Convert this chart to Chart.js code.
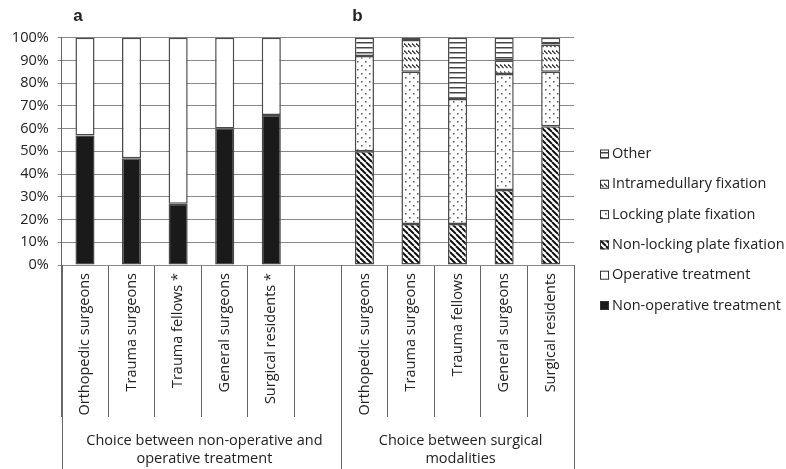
<!DOCTYPE html>
<html>
<head>
<meta charset="utf-8">
<script src="https://cdn.jsdelivr.net/npm/chart.js@4.4.1/dist/chart.umd.min.js"></script>
<style>
  html, body { margin: 0; padding: 0; background: #fff; }
</style>
</head>
<body>
<canvas id="chart" width="786" height="469"></canvas>
<script>
// Categorias (slot vazio entre os dois painéis)
const categories = ['Orthopedic surgeons', 'Trauma surgeons', 'Trauma fellows *', 'General surgeons', 'Surgical residents *', '',
  'Orthopedic surgeons', 'Trauma surgeons', 'Trauma fellows', 'General surgeons', 'Surgical residents'];

// Painel a
const nonOperative = [57, 47, 27, 60, 66, null, null, null, null, null, null];
const operative = [43, 53, 73, 40, 34, null, null, null, null, null, null];

// Painel b
const nonLocking = [null, null, null, null, null, null, 50, 18, 18, 33, 61];
const locking = [null, null, null, null, null, null, 42, 67, 55, 51, 24];
const intramedullary = [null, null, null, null, null, null, null, 14, null, 6, 12];
const other = [null, null, null, null, null, null, 8, 1, 27, 10, 3];

const yTicks = [0, 10, 20, 30, 40, 50, 60, 70, 80, 90, 100];
const panelLetters = [{ text: 'a', slot: 0 }, { text: 'b', slot: 6 }];
const groupLabels = [
  { lines: ['Choice between non-operative and', 'operative treatment'], from: 0, to: 6 },
  { lines: ['Choice between surgical', 'modalities'], from: 6, to: 11 }
];

// Padrões de preenchimento
function makePattern(w, h, draw) {
  const c = document.createElement('canvas');
  c.width = w; c.height = h;
  const g = c.getContext('2d');
  g.fillStyle = '#fff';
  g.fillRect(0, 0, w, h);
  draw(g);
  return g.createPattern(c, 'repeat');
}
const ctx0 = document.getElementById('chart').getContext('2d');

const diagPattern = makePattern(6, 6, g => {
  g.strokeStyle = '#111'; g.lineWidth = 2;
  g.beginPath();
  [-6, 0, 6].forEach(k => { g.moveTo(k, 0); g.lineTo(k + 6, 6); });
  g.stroke();
});
const dotPattern = makePattern(8, 8, g => {
  g.fillStyle = '#666';
  g.fillRect(1, 1, 1.6, 1.6);
  g.fillRect(5, 5, 1.6, 1.6);
});
const smallDiagPattern = makePattern(4, 7, g => {
  g.strokeStyle = '#333'; g.lineWidth = 1.2;
  g.beginPath(); g.moveTo(0, 1.5); g.lineTo(3.5, 5); g.stroke();
});
const hLinePattern = makePattern(5, 5, g => {
  g.fillStyle = '#444';
  g.fillRect(0, 2, 5, 1.5);
});

function ds(label, data, fill) {
  return {
    label, data, backgroundColor: fill, borderColor: '#4a4a4a', borderWidth: 1.5,
    borderSkipped: false, barPercentage: 0.41, categoryPercentage: 1
  };
}

const datasets = [
  ds('Non-operative treatment', nonOperative, '#1a1a1a'),
  ds('Operative treatment', operative, '#ffffff'),
  ds('Non-locking plate fixation', nonLocking, diagPattern),
  ds('Locking plate fixation', locking, dotPattern),
  ds('Intramedullary fixation', intramedullary, smallDiagPattern),
  ds('Other', other, hLinePattern)
];

const FONT = "'Open Sans', sans-serif";

// Desenha legenda, linhas dos grupos e letras dos painéis
const extras = {
  id: 'extras',
  afterDraw(chart) {
    const { ctx, chartArea, scales: { x } } = chart;
    const slot = x.getPixelForValue(1) - x.getPixelForValue(0);
    const edge = i => x.getPixelForValue(i) - slot / 2;
    ctx.save();

    // linhas longas entre os grupos
    ctx.strokeStyle = '#666'; ctx.lineWidth = 1;
    [0, 6, 11].forEach(i => {
      const px = Math.round(edge(i)) + 0.5;
      ctx.beginPath(); ctx.moveTo(px, chartArea.bottom); ctx.lineTo(px, chart.height); ctx.stroke();
    });

    // títulos dos grupos
    ctx.fillStyle = '#222';
    ctx.font = '14.5px ' + FONT;
    ctx.textAlign = 'center'; ctx.textBaseline = 'middle';
    groupLabels.forEach(g => {
      const cx = (edge(g.from) + edge(g.to)) / 2;
      g.lines.forEach((t, k) => ctx.fillText(t, cx + 3, chartArea.bottom + 176 + k * 18));
    });

    // letras a / b
    ctx.font = 'bold 17px "Liberation Sans", Arial, sans-serif';
    panelLetters.forEach(p => {
      ctx.fillText(p.text, x.getPixelForValue(p.slot) - 7, chartArea.top - 21);
    });

    // legenda (ordem invertida)
    ctx.font = '14.5px ' + FONT;
    ctx.textAlign = 'left';
    const items = chart.data.datasets.slice().reverse();
    items.forEach((d, i) => {
      const cy = 154 + i * 30.3;
      ctx.fillStyle = d.backgroundColor;
      ctx.fillRect(600, cy - 4.5, 9, 9);
      ctx.strokeStyle = '#333'; ctx.lineWidth = 1;
      ctx.strokeRect(600.5, cy - 4, 8, 8);
      ctx.fillStyle = '#222';
      ctx.fillText(d.label, 612, cy);
    });
    ctx.restore();
  }
};

new Chart(ctx0, {
  type: 'bar',
  data: { labels: categories, datasets },
  options: {
    responsive: false,
    animation: false,
    devicePixelRatio: 1,
    layout: { padding: { top: 37.7, right: 212, bottom: 0, left: 0 } },
    plugins: { legend: { display: false }, tooltip: { enabled: false } },
    scales: {
      x: {
        stacked: true,
        grid: { offset: true, drawOnChartArea: false, drawTicks: true, tickLength: 152, color: '#666' },
        border: { color: '#888' },
        ticks: { autoSkip: false, maxRotation: 90, minRotation: 90, padding: -144, color: '#222', font: { size: 14.5, family: FONT } },
        afterFit: s => { s.height = 204; }
      },
      y: {
        stacked: true, min: 0, max: 100,
        afterBuildTicks: s => { s.ticks = yTicks.map(v => ({ value: v })); },
        ticks: { callback: v => v + '%', padding: 9, color: '#222', font: { size: 14.5, family: FONT } },
        grid: { color: '#888', tickLength: 4 },
        border: { color: '#666' },
        afterFit: s => { s.width = 61.7; }
      }
    }
  },
  plugins: [extras]
});
</script>
</body>
</html>
